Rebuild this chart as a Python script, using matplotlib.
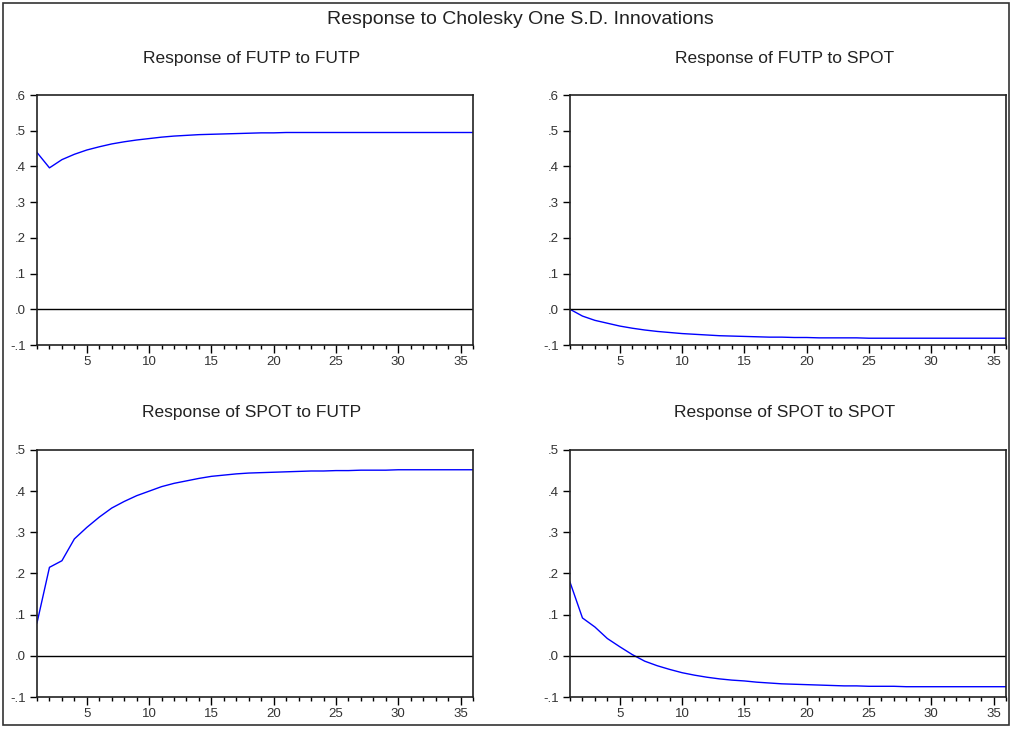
import matplotlib
matplotlib.use("Agg")
import matplotlib.pyplot as plt
from matplotlib.patches import Rectangle
from matplotlib.ticker import FixedLocator, MultipleLocator, FuncFormatter

periods = list(range(1, 37))

futp_to_futp = [0.439, 0.396, 0.419, 0.434, 0.446, 0.455, 0.463, 0.469, 0.474, 0.478,
                0.482, 0.485, 0.487, 0.489, 0.490, 0.491, 0.492, 0.493, 0.494, 0.494,
                0.495, 0.495, 0.495, 0.495, 0.495, 0.495, 0.495, 0.495, 0.495, 0.495,
                0.495, 0.495, 0.495, 0.495, 0.495, 0.495]
futp_to_spot = [0.000, -0.019, -0.031, -0.039, -0.047, -0.053, -0.058, -0.062, -0.065, -0.068,
                -0.070, -0.072, -0.074, -0.075, -0.076, -0.077, -0.078, -0.078, -0.079, -0.079,
                -0.080, -0.080, -0.080, -0.080, -0.081, -0.081, -0.081, -0.081, -0.081, -0.081,
                -0.081, -0.081, -0.081, -0.081, -0.081, -0.081]
spot_to_futp = [0.080, 0.215, 0.231, 0.284, 0.312, 0.337, 0.359, 0.375, 0.389, 0.400,
                0.411, 0.419, 0.425, 0.431, 0.436, 0.439, 0.442, 0.444, 0.445, 0.446,
                0.447, 0.448, 0.449, 0.449, 0.450, 0.450, 0.451, 0.451, 0.451, 0.452,
                0.452, 0.452, 0.452, 0.452, 0.452, 0.452]
spot_to_spot = [0.179, 0.092, 0.070, 0.042, 0.022, 0.003, -0.013, -0.024, -0.033, -0.041,
                -0.047, -0.052, -0.056, -0.059, -0.061, -0.064, -0.066, -0.068, -0.069, -0.070,
                -0.071, -0.072, -0.073, -0.073, -0.074, -0.074, -0.074, -0.075, -0.075, -0.075,
                -0.075, -0.075, -0.075, -0.075, -0.075, -0.075]

panels = [
    ("Response of FUTP to FUTP", futp_to_futp, (-0.1, 0.6)),
    ("Response of FUTP to SPOT", futp_to_spot, (-0.1, 0.6)),
    ("Response of SPOT to FUTP", spot_to_futp, (-0.1, 0.5)),
    ("Response of SPOT to SPOT", spot_to_spot, (-0.1, 0.5)),
]
main_title = "Response to Cholesky One S.D. Innovations"

W, H = 1013, 734
fig = plt.figure(figsize=(W / 100, H / 100), dpi=100)
plt.rcParams['font.family'] = ['Liberation Sans', 'DejaVu Sans']

fig.patches.append(Rectangle((3 / W, 1 - 725 / H), 1006 / W, 722 / H, transform=fig.transFigure,
                             fill=False, edgecolor='#333333', linewidth=1.2))

boxes = [(37, 473, 95, 345), (570, 1006, 95, 345), (37, 473, 450, 697), (570, 1006, 450, 697)]

def fmt(v, pos):
    s = "%.1f" % v
    if s.startswith("0"):
        s = s[1:]
    elif s.startswith("-0"):
        s = "-" + s[2:]
    return s

for (title, vals, ylim), (l, r, t, b) in zip(panels, boxes):
    ax = fig.add_axes([l / W, 1 - b / H, (r - l) / W, (b - t) / H])
    ax.plot(periods, vals, color='#0000ff', linewidth=1.0)
    ax.axhline(0, color='black', linewidth=1.0)
    ax.set_xlim(1, 36)
    ax.set_ylim(*ylim)
    ax.xaxis.set_major_locator(FixedLocator([5, 10, 15, 20, 25, 30, 35]))
    ax.xaxis.set_minor_locator(MultipleLocator(1))
    ax.yaxis.set_major_locator(MultipleLocator(0.1))
    ax.yaxis.set_major_formatter(FuncFormatter(fmt))
    ax.tick_params(axis='x', which='major', length=6, width=1, direction='out', labelsize=9.5, pad=2,
                   labelcolor='#333333')
    ax.tick_params(axis='x', which='minor', length=3, width=1, direction='out')
    ax.tick_params(axis='y', which='major', length=5, width=1, direction='out', labelsize=9.5, pad=3,
                   labelcolor='#333333')
    for sp in ax.spines.values():
        sp.set_linewidth(1.2)
        sp.set_color('#222222')
    fig.text(((l + r) / 2 - 3) / W, 1 - (t - 37) / H, title,
             ha='center', va='center', fontsize=12.5, color='#222222')

fig.text(520 / W, 1 - 19 / H, main_title, ha='center', va='center', fontsize=14, color='#222222')

fig.savefig("out.png", dpi=100)
